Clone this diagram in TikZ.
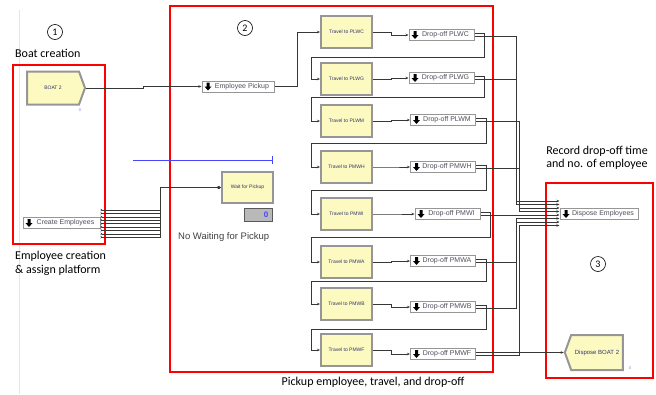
\documentclass[tikz,border=0pt]{standalone}
\usepackage{fontspec}
\setmainfont{Carlito}
\newfontfamily\arenafont{Liberation Sans}
\usetikzlibrary{arrows.meta,shapes.symbols,calc}
\definecolor{arenayellow}{RGB}{252,250,192}
\definecolor{arenaborder}{RGB}{150,150,150}
\definecolor{arenatext}{RGB}{50,50,110}
\definecolor{modtext}{RGB}{80,80,95}
\definecolor{conncol}{RGB}{55,55,55}
\definecolor{arenablue}{RGB}{70,70,255}
\begin{document}
\begin{tikzpicture}[x=1pt,y=-1pt,
  proc/.style={draw=arenaborder, line width=2pt, fill=arenayellow, minimum width=51pt, minimum height=32pt, inner sep=0pt, font=\arenafont\fontsize{5}{6}\selectfont, text=arenatext},
  modbox/.style={draw=arenaborder, line width=1pt, fill=white, minimum height=11pt, minimum width=65pt, inner xsep=1pt, inner ysep=0pt, font=\arenafont\fontsize{7}{8}\selectfont, text=modtext,
    path picture={\fill[black] ([xshift=6pt]path picture bounding box.west) ++(-1.5,-4) -- ++(3,0) -- ++(0,4) -- ++(2,0) -- ++(-3.5,4) -- ++(-3.5,-4) -- ++(2,0) -- cycle;}},
  conn/.style={draw=conncol, line width=0.6pt, -{Stealth[length=3pt,width=2.5pt]}},
  region/.style={draw=red, line width=1.4pt},
  ann/.style={font=\fontsize{12}{13.5}\selectfont, inner sep=0pt},
  num/.style={circle, draw, line width=0.6pt, minimum size=15pt, inner sep=0pt, font=\fontsize{10}{10}\selectfont},
  flag/.style={signal, draw=arenaborder, line width=2pt, fill=arenayellow, minimum height=33pt, inner sep=0pt, signal pointer angle=140, text=arenatext},
  tiny0/.style={font=\arenafont\fontsize{4}{4}\selectfont, text=arenablue!70, inner sep=0pt}
]
\useasboundingbox (0,0) rectangle (656,394);
\draw[gray!20, line width=0.8pt] (19,10) -- (19,394);

% region frames
\draw[region] (13,65) rectangle (105,244);
\draw[region] (170,6) rectangle (493,372);
\draw[region] (546,183) rectangle (653,378);

% annotations
\node[num] (n1) at (55,32) {1};
\node[num] (n2) at (245,28) {2};
\node[num] (n3) at (598,264) {3};
\node[ann, anchor=west] (a1) at (15,53) {Boat creation};
\node[ann, anchor=west, align=left] (a2) at (15,263.5) {Employee creation\\\& assign platform};
\node[ann, align=center] (a3) at (597,158) {Record drop-off time\\and no. of employee};
\node[ann] (a4) at (373,382) {Pickup employee, travel, and drop-off};

% source / sink modules
\node[flag, signal to=east, signal from=nowhere, minimum width=58pt, font=\arenafont\fontsize{5}{6}\selectfont] (boat) at (53,88) {BOAT 2};
\node[tiny0] (b0) at (80,110) {0};
\node[modbox, minimum width=77pt] (ce) at (61.5,223) {\hspace*{8pt}Create Employees};
\node[modbox, minimum width=72pt] (ep) at (238,86.5) {\hspace*{8pt}Employee Pickup};
\node[proc, minimum width=51pt, minimum height=31pt] (wait) at (247.5,187.5) {Wait for Pickup};
\node[draw=gray!70!black, fill=gray!55, line width=0.8pt, minimum width=28pt, minimum height=13pt, inner sep=0pt] (cnt) at (258.5,215) {};
\node[font=\arenafont\bfseries\fontsize{8}{8}\selectfont, text=arenablue, inner sep=0pt] (cnt0) at (266,215) {0};
\node[font=\arenafont\fontsize{9.5}{10}\selectfont, text=black!75, anchor=west, inner sep=0pt] (nw) at (178,237) {No Waiting for Pickup};
\node[modbox, minimum width=78pt] (dispE) at (599,214) {\hspace*{8pt}Dispose Employees};
\node[flag, signal to=west, signal from=nowhere, minimum width=58pt, minimum height=35pt, font=\arenafont\fontsize{6}{7}\selectfont] (dispB) at (597,352.5) {Dispose BOAT 2};
\node[tiny0] (db0) at (630,368) {0};

% blue line
\draw[arenablue, line width=0.8pt, -{Bar[width=8pt]}] (133,160) coordinate (bl1) -- (273,160) coordinate (bl2);

% travel and drop-off chain
\foreach \i/\lab/\ty/\dx/\dy in {1/PLWC/32/441.5/35, 2/PLWG/79/441.5/78, 3/PLWM/121/443/120, 4/PMWH/167/443/167, 5/PMWI/214/447.5/214, 6/PMWA/262/443/261, 7/PMWB/304/443/307, 8/PMWF/350/443/354}{
  \node[proc] (t\i) at (346.5,\ty) {Travel to \lab};
  \node[modbox] (d\i) at (\dx,\dy) {\hspace*{8pt}Drop-off \lab};
  \draw[conn] (t\i.east) -- ++(18,0) |- (d\i.west);
}
\foreach \i/\j/\L in {1/2/57, 2/3/97, 3/4/143, 4/5/190, 5/6/237, 6/7/281, 7/8/329}{
  \draw[conn] ([yshift=1.5pt]d\i.east) -- ++(10,0) |- (311,\L) |- (t\j.west);
}
\foreach \i/\tx/\by/\s in {1/516/201/13, 2/516/204.5/9.5, 3/519/208/6, 4/519/211.5/2.5, 5/517/215/-1, 6/516/218.5/-4.5, 7/516/222/-8, 8/519/225.5/-11.5}{
  \draw[conn] ([yshift=-1.5pt]d\i.east) -| (\tx,\by) -- ([yshift=\s pt]dispE.west);
}
\draw[conn] ([yshift=1.5pt]d8.east) -- (dispB.west);

% boat to pickup, pickup to first travel
\draw[conn] (boat.east) -- (143,88) -- (143,86.5) -- (ep.west);
\draw[conn] (ep.east) -- (297,86.5) |- (t1.west);

% create employees bundle
\foreach \k in {0,...,8}{
  \pgfmathsetmacro{\sh}{13-3.4*\k}
  \draw[conn, {Stealth[length=2pt,width=2.4pt,reversed]}-{Stealth[length=3pt,width=2.5pt]}] ([yshift=\sh pt]ce.east) -| (160,187.5) -- (wait.west);
}
\end{tikzpicture}
\end{document}
